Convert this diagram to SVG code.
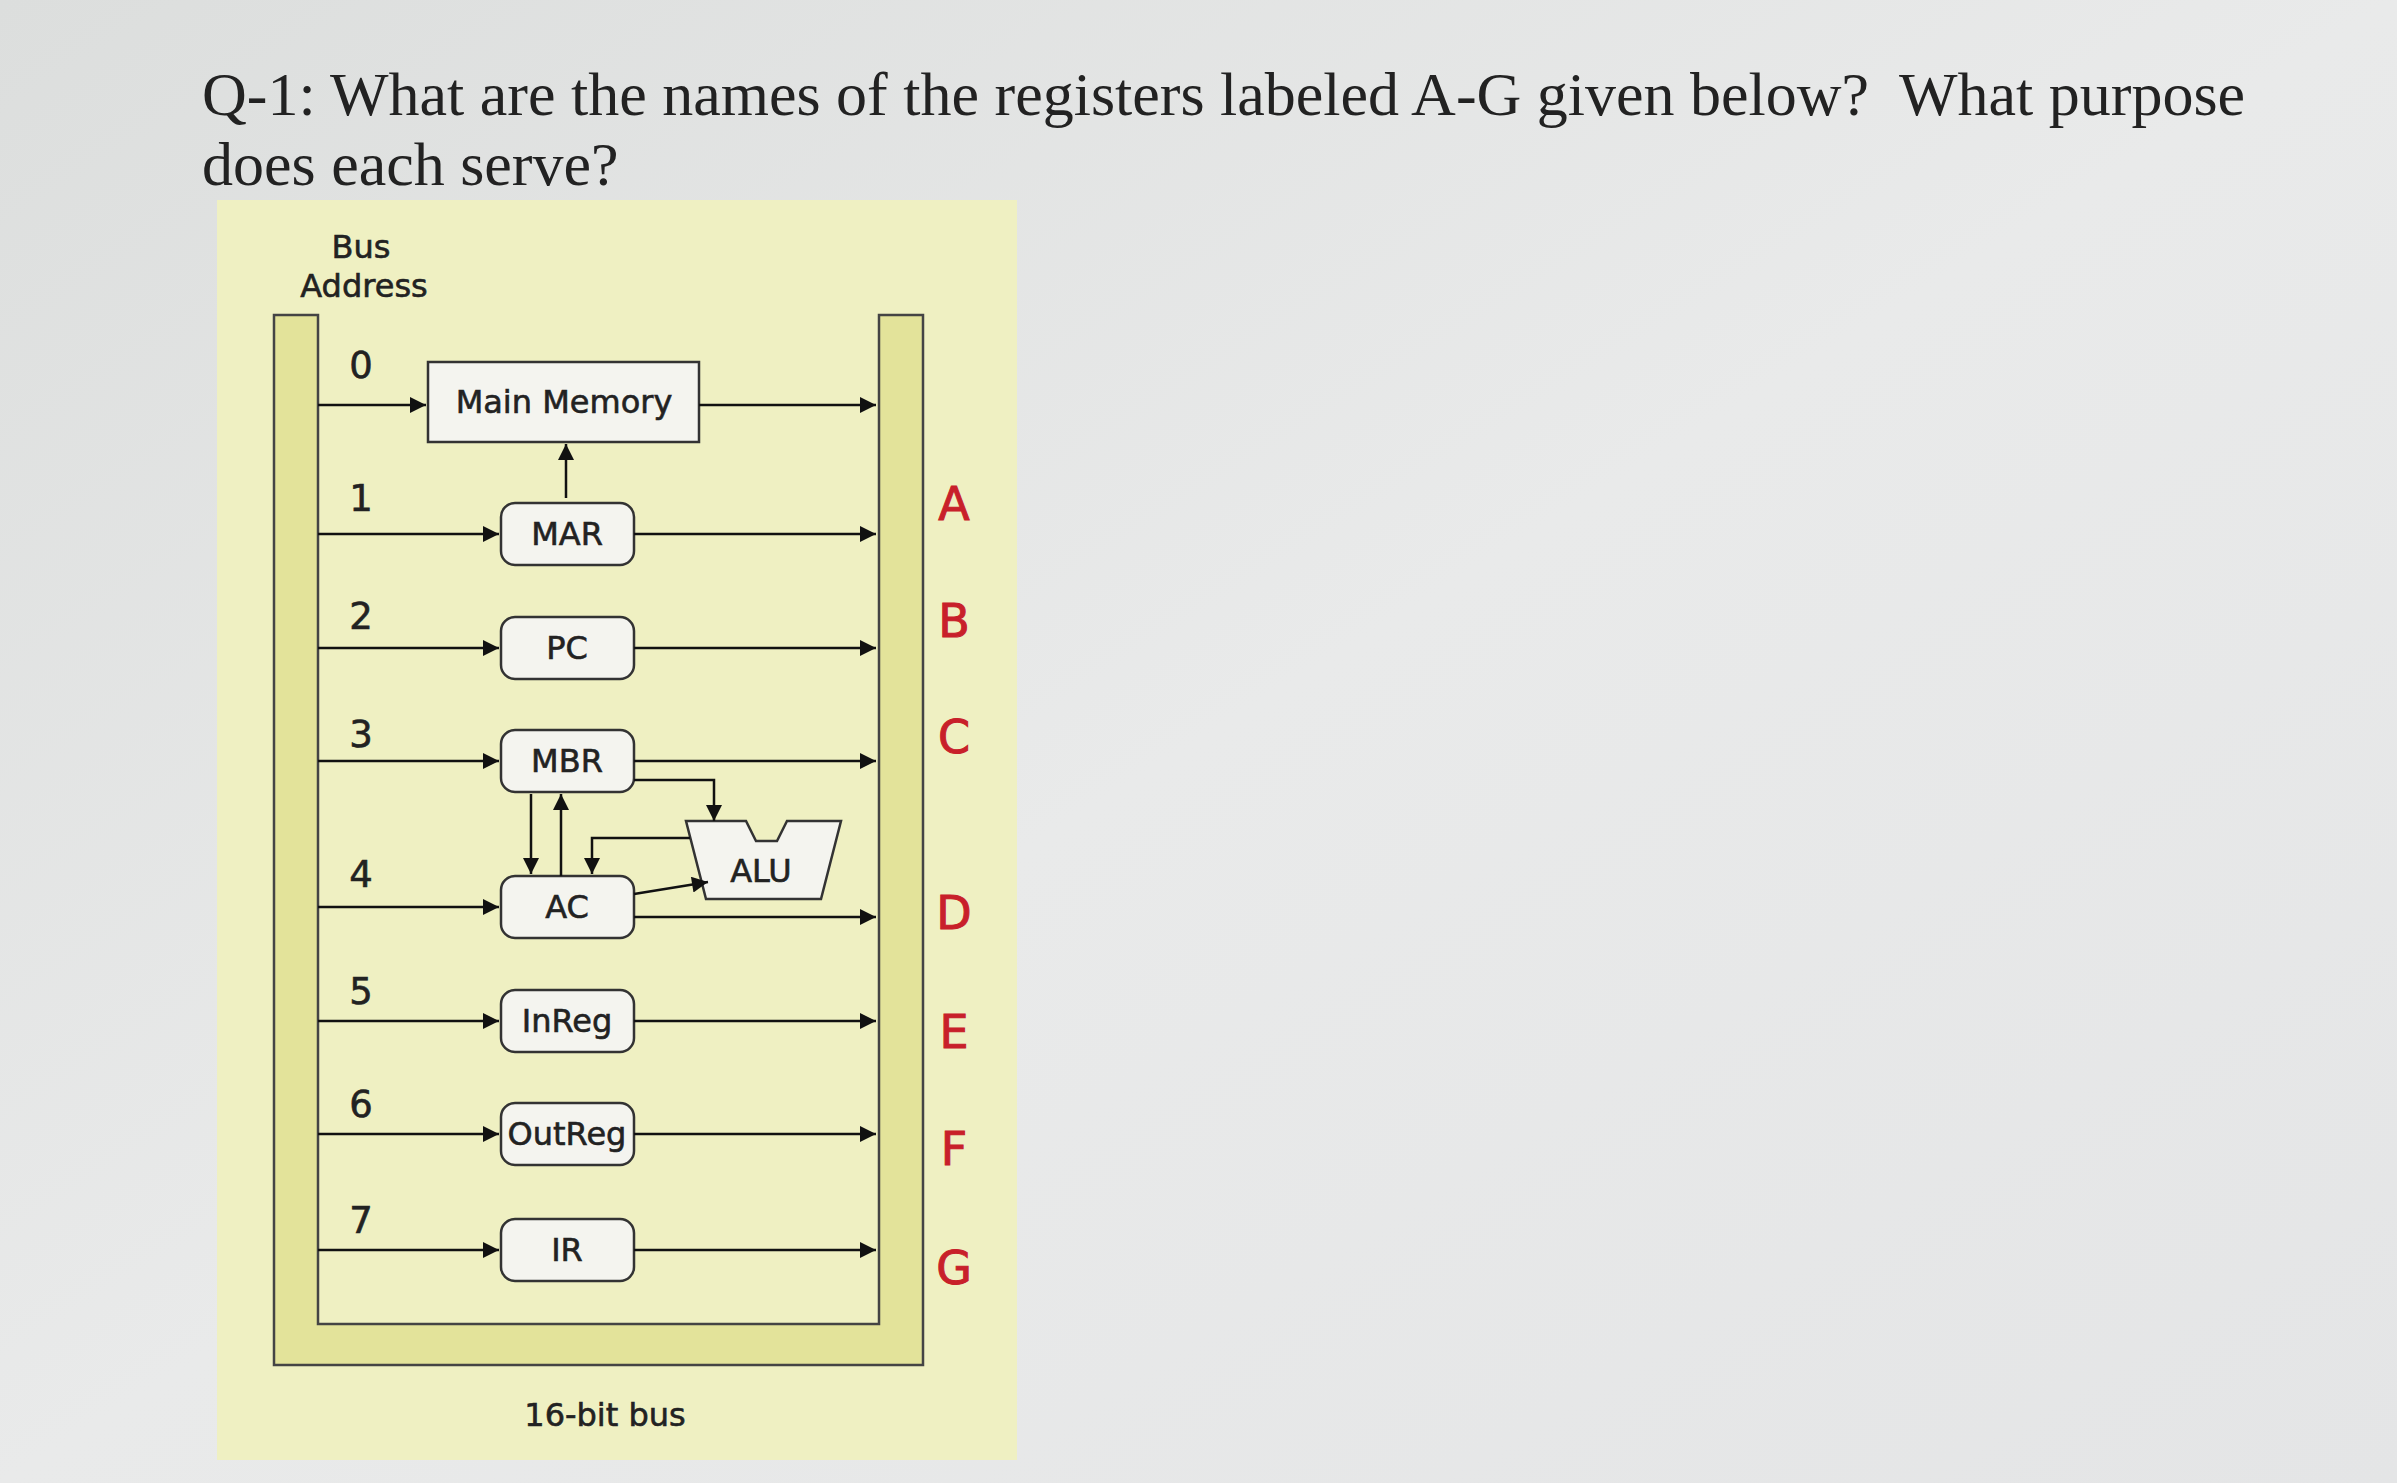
<svg xmlns="http://www.w3.org/2000/svg" width="2397" height="1483" viewBox="0 0 2397 1483">
<defs>
<linearGradient id="bg" x1="0" y1="0" x2="1" y2="1"><stop offset="0" stop-color="#dcdedd"/><stop offset="0.5" stop-color="#e9eaea"/><stop offset="1" stop-color="#e4e5e6"/></linearGradient>
<marker id="ah" viewBox="0 0 10 10" refX="10" refY="5" markerWidth="20" markerHeight="16" markerUnits="userSpaceOnUse" orient="auto"><path d="M0,0L10,5L0,10z" fill="#111"/></marker>
</defs>
<style>
.t{font-family:"Liberation Serif",serif;font-size:62px;fill:#222}
.s{font-family:"DejaVu Sans",sans-serif;font-size:32px;fill:#222;text-anchor:middle;stroke:#222;stroke-width:0.6}
.n{font-family:"DejaVu Sans",sans-serif;font-size:37px;fill:#222;text-anchor:middle;stroke:#222;stroke-width:0.6}
.l{font-family:"DejaVu Sans",sans-serif;font-size:46px;fill:#c8202a;text-anchor:middle;stroke:#c8202a;stroke-width:1}
.r{fill:#f4f4ef;stroke:#333;stroke-width:2.5}
.c{stroke:#111;stroke-width:2.5;fill:none;marker-end:url(#ah)}
</style>
<rect width="2397" height="1483" fill="url(#bg)"/>
<text class="t" x="202" y="115" xml:space="preserve">Q-1: What are the names of the registers labeled A-G given below?  What purpose</text>
<text class="t" x="202" y="185">does each serve?</text>
<rect x="217" y="200" width="800" height="1260" fill="#eff0c2"/>
<path d="M274,315H318V1324H879V315H923V1365H274Z" fill="#e3e39a" stroke="#444" stroke-width="2.5"/>
<text class="s" x="361" y="258">Bus</text>
<text class="s" x="364" y="297">Address</text>
<g id="numbers">
<text class="n" x="361" y="378">0</text><text class="n" x="361" y="511">1</text><text class="n" x="361" y="629">2</text><text class="n" x="361" y="747">3</text><text class="n" x="361" y="887">4</text><text class="n" x="361" y="1004">5</text><text class="n" x="361" y="1117">6</text><text class="n" x="361" y="1233">7</text>
</g>
<g id="mainmem"><rect class="r" x="428" y="362" width="271" height="80"/><text class="s" x="564" y="413">Main Memory</text></g>
<g id="MAR"><rect class="r" x="501" y="503" width="133" height="62" rx="14"/><text class="s" x="567" y="545">MAR</text></g>
<g id="PC"><rect class="r" x="501" y="617" width="133" height="62" rx="14"/><text class="s" x="567" y="659">PC</text></g>
<g id="MBR"><rect class="r" x="501" y="730" width="133" height="62" rx="14"/><text class="s" x="567" y="772">MBR</text></g>
<g id="AC"><rect class="r" x="501" y="876" width="133" height="62" rx="14"/><text class="s" x="567" y="918">AC</text></g>
<g id="InReg"><rect class="r" x="501" y="990" width="133" height="62" rx="14"/><text class="s" x="567" y="1032">InReg</text></g>
<g id="OutReg"><rect class="r" x="501" y="1103" width="133" height="62" rx="14"/><text class="s" x="567" y="1145">OutReg</text></g>
<g id="IR"><rect class="r" x="501" y="1219" width="133" height="62" rx="14"/><text class="s" x="567" y="1261">IR</text></g>
<g id="ALU"><path class="r" d="M686,821H746L756,841H777L787,821H841L821,899H706Z"/><text class="s" x="761" y="882">ALU</text></g>
<g id="connectors">
<path class="c" d="M318,405H426"/><path class="c" d="M699,405H876"/>
<path class="c" d="M566,498V444"/>
<path class="c" d="M318,534H499"/><path class="c" d="M634,534H876"/>
<path class="c" d="M318,648H499"/><path class="c" d="M634,648H876"/>
<path class="c" d="M318,761H499"/><path class="c" d="M634,761H876"/>
<path class="c" d="M318,907H499"/><path class="c" d="M634,917H876"/>
<path class="c" d="M318,1021H499"/><path class="c" d="M634,1021H876"/>
<path class="c" d="M318,1134H499"/><path class="c" d="M634,1134H876"/>
<path class="c" d="M318,1250H499"/><path class="c" d="M634,1250H876"/>
<path class="c" d="M634,780H714V821"/>
<path class="c" d="M634,894L708,882"/>
<path class="c" d="M690,838H592V874"/>
<path class="c" d="M531,794V874"/>
<path class="c" d="M561,876V794"/>
</g>
<g id="letters">
<text class="l" x="954" y="520">A</text><text class="l" x="954" y="637">B</text><text class="l" x="954" y="753">C</text><text class="l" x="954" y="929">D</text><text class="l" x="954" y="1048">E</text><text class="l" x="954" y="1165">F</text><text class="l" x="954" y="1284">G</text>
</g>
<text class="s" x="605" y="1426">16-bit bus</text>
</svg>
